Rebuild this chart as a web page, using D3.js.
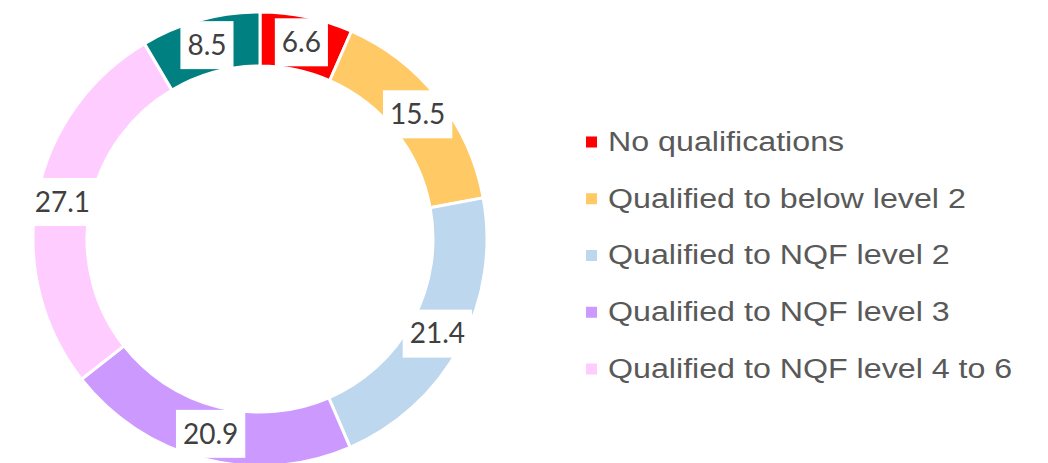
<!DOCTYPE html>
<html>
<head>
<meta charset="utf-8">
<script src="https://cdn.jsdelivr.net/npm/d3@7"></script>
<style>
  html, body { margin: 0; padding: 0; background: #fff; }
  svg { display: block; }
</style>
</head>
<body>
<svg id="chart" width="1048" height="463"></svg>
<script>
const categories = [
  "No qualifications",
  "Qualified to below level 2",
  "Qualified to NQF level 2",
  "Qualified to NQF level 3",
  "Qualified to NQF level 4 to 6",
  "Other qualifications"
];
const values = [6.6, 15.5, 21.4, 20.9, 27.1, 8.5];
const colors = ["#FF0000", "#FFC966", "#BDD7EE", "#CC99FF", "#FFCCFF", "#008080"];
const legendItems = categories.slice(0, 5);

const svg = d3.select("#chart");
const cx = 260, cy = 239, rOuter = 227, rInner = 173, rLabel = 201;

const data = categories.map((c, i) => ({ name: c, value: values[i], color: colors[i] }));
const pie = d3.pie().value(d => d.value).sort(null);
const arcs = pie(data);
const arc = d3.arc().innerRadius(rInner).outerRadius(rOuter);
const labelArc = d3.arc().innerRadius(rLabel).outerRadius(rLabel);

const g = svg.append("g").attr("transform", `translate(${cx},${cy})`);
g.selectAll("path.slice").data(arcs).enter().append("path")
  .attr("class", "slice")
  .attr("d", arc)
  .attr("fill", d => d.data.color)
  .attr("stroke", "#fff")
  .attr("stroke-width", 3);

const lab = g.selectAll("g.lab").data(arcs).enter().append("g")
  .attr("class", "lab")
  .attr("transform", d => { const [x, y] = labelArc.centroid(d); return `translate(${x},${y})`; });
const fmt = d3.format(".1f");
lab.append("text")
  .attr("text-anchor", "middle")
  .attr("dy", "0.35em")
  .attr("font-family", "Lato, 'Open Sans', sans-serif")
  .attr("font-size", 28)
  .attr("fill", "#404040")
  .text(d => fmt(d.data.value));
lab.each(function() {
  const t = d3.select(this).select("text");
  const bb = t.node().getBBox();
  d3.select(this).insert("rect", "text")
    .attr("x", bb.x - 7).attr("y", -24)
    .attr("width", bb.width + 14).attr("height", 48)
    .attr("fill", "#fff");
});

const legend = svg.append("g").attr("transform", "translate(586,0)");
const ly = d3.scalePoint().domain(legendItems).range([142, 369]);
const li = legend.selectAll("g").data(legendItems).enter().append("g")
  .attr("transform", d => `translate(0,${ly(d)})`);
li.append("rect").attr("x", 0).attr("y", -5.5).attr("width", 11).attr("height", 11)
  .attr("fill", (d, i) => colors[i]);
li.append("text")
  .attr("transform", "translate(22,0) scale(1.15,1)")
  .attr("dy", "0.32em")
  .attr("font-family", "'Liberation Sans', Arial, sans-serif")
  .attr("font-size", 28)
  .attr("fill", "#595959")
  .text(d => d);
</script>
</body>
</html>
